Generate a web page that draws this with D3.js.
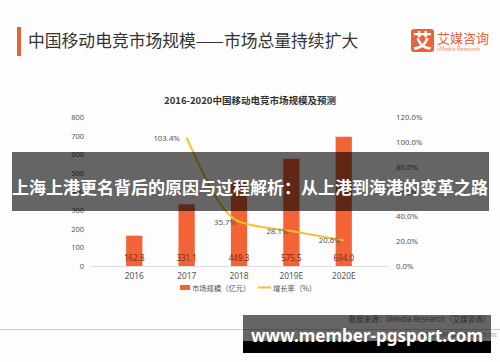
<html>
<head>
<meta charset="utf-8">
<script src="https://cdn.jsdelivr.net/npm/d3@7"></script>
<style>
  body { margin: 0; padding: 0; background: #fdfdfd; }
  svg { display: block; font-family: "Noto Sans CJK SC", "Noto Sans", sans-serif; }
</style>
</head>
<body>
<div id="chart"></div>
<script>
// data
const years = ["2016", "2017", "2018", "2019E", "2020E"];
const marketSize = [162.8, 331.1, 449.3, 575.5, 694.0];
const growthYears = ["2017", "2018", "2019E", "2020E"];
const growthRate = [103.4, 35.7, 28.1, 20.6];
const leftTicks = [0, 100, 200, 300, 400, 500, 600, 700, 800];
const rightTicks = [0, 20, 40, 60, 80, 100, 120];

const W = 500, H = 362;
const orange = "#f26336", gold = "#f5c02a";

const svg = d3.select("#chart").append("svg")
  .attr("width", W).attr("height", H);

svg.append("rect").attr("width", W).attr("height", H).attr("fill", "#fdfdfd");

// header
svg.append("rect").attr("x", 17).attr("y", 27).attr("width", 4).attr("height", 29).attr("fill", "#e8623c");
svg.append("text").attr("x", 28).attr("y", 47).attr("font-size", 16.8).attr("fill", "#333")
  .text("中国移动电竞市场规模——市场总量持续扩大");

// logo
svg.append("rect").attr("x", 411).attr("y", 29).attr("width", 23).attr("height", 23).attr("rx", 3).attr("fill", "#e8623c");
svg.append("text").attr("x", 422.5).attr("y", 47.5).attr("text-anchor", "middle").attr("font-size", 19)
  .attr("font-weight", "bold").attr("fill", "#fff").text("艾");
svg.append("text").attr("x", 437).attr("y", 43).attr("font-size", 13).attr("fill", "#e8623c").text("艾媒咨询");
svg.append("text").attr("x", 437).attr("y", 51).attr("font-size", 5.5).attr("fill", "#e98a6c").text("iiMedia Research");

// chart title
svg.append("text").attr("x", 250).attr("y", 104).attr("text-anchor", "middle").attr("font-size", 9.5)
  .attr("font-weight", "bold").attr("fill", "#333").text("2016-2020中国移动电竞市场规模及预测");

const x = d3.scaleBand().domain(years).range([90, 388]).padding(0.69);
const y = d3.scaleLinear().domain([0, 800]).range([266, 117]);
const y2 = d3.scaleLinear().domain([0, 120]).range([266, 117]);

// axes
const gl = svg.append("g").attr("transform", "translate(84,0)")
  .call(d3.axisLeft(y).tickValues(leftTicks).tickSize(0).tickPadding(0));
gl.select(".domain").remove();
gl.selectAll("text").attr("font-size", 7.5).attr("fill", "#555").attr("font-family", "Noto Sans");

const gr = svg.append("g").attr("transform", "translate(396,0)")
  .call(d3.axisRight(y2).tickValues(rightTicks).tickSize(0).tickPadding(0).tickFormat(d => d.toFixed(1) + "%"));
gr.select(".domain").remove();
gr.selectAll("text").attr("font-size", 7.8).attr("fill", "#555").attr("font-family", "Noto Sans");

const gx = svg.append("g").attr("transform", "translate(0,266)")
  .call(d3.axisBottom(x).tickSize(0).tickPadding(7));
gx.select(".domain").attr("stroke", "#ddd");
gx.selectAll("text").attr("font-size", 8.3).attr("fill", "#555").attr("font-family", "Noto Sans");

// bars
svg.selectAll(".bar").data(years).enter().append("rect")
  .attr("x", d => x(d)).attr("width", x.bandwidth())
  .attr("y", (d, i) => y(marketSize[i]))
  .attr("height", (d, i) => y(0) - y(marketSize[i]))
  .attr("fill", orange);

svg.selectAll(".blabel").data(years).enter().append("text")
  .attr("x", d => x(d) + x.bandwidth() / 2).attr("y", 261)
  .attr("text-anchor", "middle").attr("font-size", 8).attr("fill", "#7a2a14")
  .attr("font-family", "Noto Sans")
  .text((d, i) => marketSize[i].toFixed(1));

// growth line
const pts = growthYears.map((d, i) => [x(d) + x.bandwidth() / 2, y2(growthRate[i])]);
svg.append("path").attr("d", d3.line().curve(d3.curveMonotoneX)(pts))
  .attr("fill", "none").attr("stroke", gold).attr("stroke-width", 2);

svg.selectAll(".llabel").data(growthYears).enter().append("text")
  .attr("x", (d, i) => pts[i][0] - (i === 0 ? 20 : 14)).attr("y", (d, i) => pts[i][1] + 3)
  .attr("text-anchor", "middle").attr("font-size", 7.8).attr("fill", "#555")
  .attr("font-family", "Noto Sans")
  .text((d, i) => growthRate[i].toFixed(1) + "%");

// legend
svg.append("rect").attr("x", 180).attr("y", 285).attr("width", 10).attr("height", 5).attr("fill", orange);
svg.append("text").attr("x", 192).attr("y", 290.5).attr("font-size", 7.3).attr("fill", "#555").text("市场规模（亿元）");
svg.append("line").attr("x1", 258).attr("x2", 271).attr("y1", 287.5).attr("y2", 287.5)
  .attr("stroke", gold).attr("stroke-width", 2);
svg.append("text").attr("x", 273).attr("y", 290.5).attr("font-size", 7.3).attr("fill", "#555").text("增长率（%）");

// footer
svg.append("text").attr("x", 490).attr("y", 322).attr("text-anchor", "end").attr("font-size", 7.5)
  .attr("fill", "#777").text("数据来源：iiMedia Research（艾媒咨询）");
svg.append("line").attr("x1", 0).attr("x2", 500).attr("y1", 329.5).attr("y2", 329.5)
  .attr("stroke", "#c8c8c8").attr("stroke-width", 1);
svg.append("text").attr("x", 497).attr("y", 337).attr("text-anchor", "end").attr("font-size", 6)
  .attr("fill", "#999").text("©2019 iiMedia Research Inc");

// overlay banner
svg.append("rect").attr("x", 12).attr("y", 152).attr("width", 477).attr("height", 59)
  .attr("fill", "#000").attr("opacity", 0.6);
svg.append("text").attr("x", 250).attr("y", 194).attr("text-anchor", "middle").attr("font-size", 17)
  .attr("font-weight", "bold").attr("fill", "#fff")
  .text("上海上港更名背后的原因与过程解析：从上港到海港的变革之路");

// watermark
svg.append("rect").attr("x", 243).attr("y", 315).attr("width", 248).attr("height", 26)
  .attr("fill", "#000").attr("opacity", 0.6);
svg.append("rect").attr("x", 243).attr("y", 341).attr("width", 248).attr("height", 12).attr("fill", "#000");
svg.append("text").attr("x", 367).attr("y", 342).attr("text-anchor", "middle").attr("font-size", 17)
  .attr("font-weight", "bold").attr("fill", "#fff").attr("font-family", "Noto Sans")
  .text("www.member-pgsport.com");
</script>
</body>
</html>
